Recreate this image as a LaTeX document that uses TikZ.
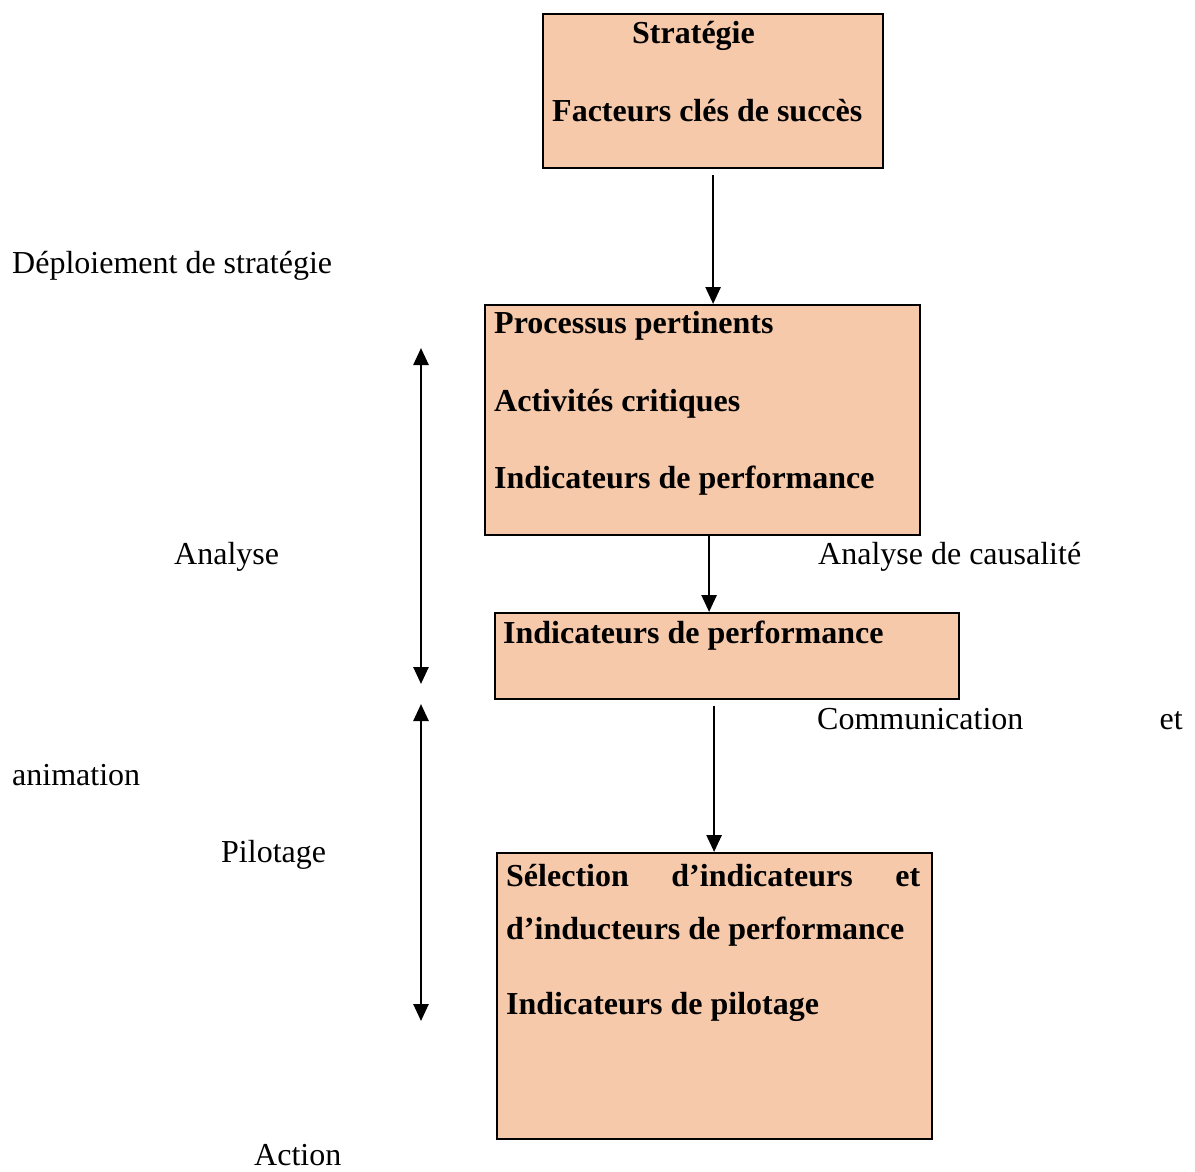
\documentclass[tikz,border=0pt]{standalone}
\usepackage{fontspec}
\setmainfont{Liberation Serif}
\usetikzlibrary{arrows.meta}
\definecolor{peach}{RGB}{246,201,170}
\begin{document}
\begin{tikzpicture}[x=1pt,y=-1pt,
  box/.style={draw=black,line width=2.2pt,fill=peach,inner sep=0pt,anchor=north west},
  lbl/.style={anchor=base west,inner sep=0pt,font=\fontsize{32}{38}\selectfont},
  blbl/.style={anchor=base west,inner sep=0pt,font=\fontsize{32}{38}\selectfont\bfseries},
  arr/.style={line width=2.6pt,-{Triangle[length=17pt,width=15pt]}},
  darr/.style={line width=2.6pt,{Triangle[length=17pt,width=15pt]}-{Triangle[length=17pt,width=15pt]}}]
\useasboundingbox (0,0) rectangle (1195,1171);

% boxes
\node[box,minimum width=340pt,minimum height=154pt] (b1) at (542,13) {};
\node[box,minimum width=435pt,minimum height=230pt] (b2) at (484,304) {};
\node[box,minimum width=464pt,minimum height=86pt] (b3) at (494,612) {};
\node[box,minimum width=435pt,minimum height=286pt] (b4) at (496,852) {};

% box contents
\node[blbl] (t1a) at (632,43) {Stratégie};
\node[blbl] (t1b) at (552,121) {Facteurs clés de succès};
\node[blbl] (t2a) at (494,333) {Processus pertinents};
\node[blbl] (t2b) at (494,411) {Activités critiques};
\node[blbl] (t2c) at (494,488) {Indicateurs de performance};
\node[blbl] (t3a) at (503,643) {Indicateurs de performance};
\node[blbl] (t4a) at (506,886) {\hbox to 414pt{Sélection\hfill d’indicateurs\hfill et}};
\node[blbl] (t4b) at (506,939) {d’inducteurs de performance};
\node[blbl] (t4c) at (506,1014) {Indicateurs de pilotage};

% side labels
\node[lbl] (l1) at (12,273) {Déploiement de stratégie};
\node[lbl] (l2) at (174,564) {Analyse};
\node[lbl] (l3) at (818,564) {Analyse de causalité};
\node[lbl] (l4) at (817,729) {Communication};
\node[lbl,anchor=base east] (l5) at (1183,729) {et};
\node[lbl] (l6) at (12,785) {animation};
\node[lbl] (l7) at (221,862) {Pilotage};
\node[lbl] (l8) at (254,1165) {Action};

% flow arrows
\draw[arr] ([yshift=-6pt]b1.south) -- (b1.south |- b2.north);
\draw[arr] ([xshift=6.5pt]b2.south) -- ([xshift=6.5pt]b2.south |- b3.north);
\draw[arr] ([xshift=-13pt,yshift=-6pt]b3.south) -- ([xshift=-13pt]b3.south |- b4.north);

% phase arrows
\coordinate (a1) at (421,348);
\coordinate (a2) at (421,684);
\coordinate (p1) at (421,704);
\coordinate (p2) at (421,1021);
\draw[darr] (a1) -- (a2);
\draw[darr] (p1) -- (p2);
\end{tikzpicture}
\end{document}
